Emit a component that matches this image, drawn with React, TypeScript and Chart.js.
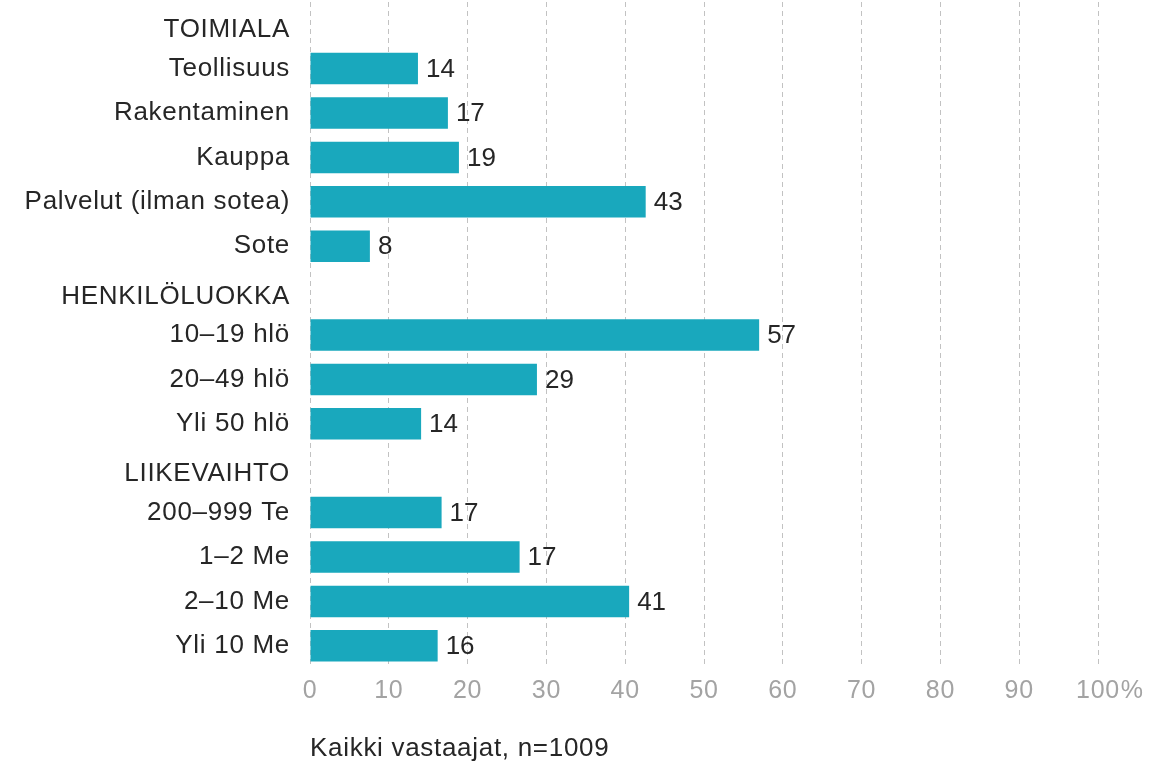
import React, { useEffect, useRef } from 'react';
import { Chart, registerables } from 'chart.js';

Chart.register(...registerables);

const categories = [
  'TOIMIALA',
  'Teollisuus',
  'Rakentaminen',
  'Kauppa',
  'Palvelut (ilman sotea)',
  'Sote',
  'HENKILÖLUOKKA',
  '10–19 hlö',
  '20–49 hlö',
  'Yli 50 hlö',
  'LIIKEVAIHTO',
  '200–999 Te',
  '1–2 Me',
  '2–10 Me',
  'Yli 10 Me',
];
const headers = ['TOIMIALA', 'HENKILÖLUOKKA', 'LIIKEVAIHTO'];
const barValues = [null, 13.7, 17.5, 18.9, 42.6, 7.6, null, 57.0, 28.8, 14.1, null, 16.7, 26.6, 40.5, 16.2];
const valueLabels = [null, '14', '17', '19', '43', '8', null, '57', '29', '14', null, '17', '17', '41', '16'];
const xMin = 0;
const xMax = 100;
const xStep = 10;
const lastTickSuffix = '%';
const footnote = 'Kaikki vastaajat, n=1009';

const FONT = 'Liberation Sans';
const TEXT = '#262626';
const TICK = '#a3a3a3';
const BAR = '#19a8bd';
const SPACING = '0.7px';

const overlayPlugin = {
  id: 'overlay',
  beforeDraw(chart: any) {
    (chart.ctx as any).letterSpacing = SPACING;
  },
  afterDatasetsDraw(chart: any) {
    const ctx = chart.ctx;
    const meta = chart.getDatasetMeta(0);
    ctx.save();
    (ctx as any).letterSpacing = '0px';
    ctx.font = `26px ${FONT}`;
    ctx.fillStyle = TEXT;
    ctx.textAlign = 'left';
    ctx.textBaseline = 'middle';
    meta.data.forEach((el: any, i: number) => {
      const lbl = valueLabels[i];
      if (lbl == null || barValues[i] == null) return;
      ctx.fillText(lbl, el.x + 8, el.y + 1);
    });
    ctx.restore();
  },
  afterDraw(chart: any) {
    const ctx = chart.ctx;
    const y = chart.scales.y;
    const x = chart.scales.x;
    ctx.save();
    (ctx as any).letterSpacing = SPACING;
    ctx.font = `26px ${FONT}`;
    ctx.fillStyle = TEXT;
    ctx.textAlign = 'right';
    ctx.textBaseline = 'middle';
    categories.forEach((c, i) => {
      if (!headers.includes(c)) return;
      ctx.fillText(c, chart.chartArea.left - 20, y.getPixelForValue(i) + 6);
    });
    (ctx as any).letterSpacing = '0px';
    ctx.font = `25px ${FONT}`;
    const w = ctx.measureText(String(xMax)).width;
    ctx.fillStyle = TICK;
    ctx.textAlign = 'left';
    const px = x.getPixelForValue(xMax);
    ctx.fillText(lastTickSuffix, px + w / 2 + 2, x.top + 8 + 15);
    ctx.restore();
    (ctx as any).letterSpacing = '0px';
  },
};

export default function App() {
  const ref = useRef<HTMLCanvasElement | null>(null);

  useEffect(() => {
    if (!ref.current) return;
    const chart = new Chart(ref.current, {
      type: 'bar',
      data: {
        labels: categories,
        datasets: [
          {
            data: barValues as any,
            backgroundColor: BAR,
            borderWidth: 0,
            barPercentage: 0.71,
            categoryPercentage: 1,
          },
        ],
      },
      options: {
        animation: false,
        responsive: false,
        indexAxis: 'y',
        layout: { padding: { top: 2, right: 52, left: 0, bottom: 0 } },
        plugins: {
          legend: { display: false },
          tooltip: { enabled: false },
        },
        scales: {
          x: {
            min: xMin,
            max: xMax,
            ticks: {
              stepSize: xStep,
              color: TICK,
              font: { family: FONT, size: 25 },
              padding: 8,
              maxRotation: 0,
              autoSkip: false,
              callback: (v: any) => String(v),
            },
            grid: { color: '#c2c2c2', lineWidth: 1, drawTicks: false },
            border: { display: false, dash: [5, 4] },
            title: {
              display: true,
              text: footnote,
              align: 'start',
              color: TEXT,
              font: { family: FONT, size: 26 },
              padding: { top: 28, bottom: 3 },
            },
            afterFit: (s: any) => {
              s.height = 99;
              s.paddingLeft = 0;
              s.paddingRight = 0;
            },
          },
          y: {
            ticks: {
              color: TEXT,
              font: { family: FONT, size: 26 },
              padding: 20,
              autoSkip: false,
              callback: (_v: any, i: number) => (headers.includes(categories[i]) ? '' : categories[i]),
            },
            grid: { display: false, drawTicks: false },
            border: { display: false },
            afterFit: (s: any) => {
              s.width = 310;
              s.paddingTop = 0;
              s.paddingBottom = 0;
            },
          },
        },
      } as any,
      plugins: [overlayPlugin],
    });
    return () => chart.destroy();
  }, []);

  return (
    <div style={{ position: 'absolute', left: 0, top: 0, width: 1150, height: 767, background: '#fff' }}>
      <canvas ref={ref} width={1150} height={767} />
    </div>
  );
}
